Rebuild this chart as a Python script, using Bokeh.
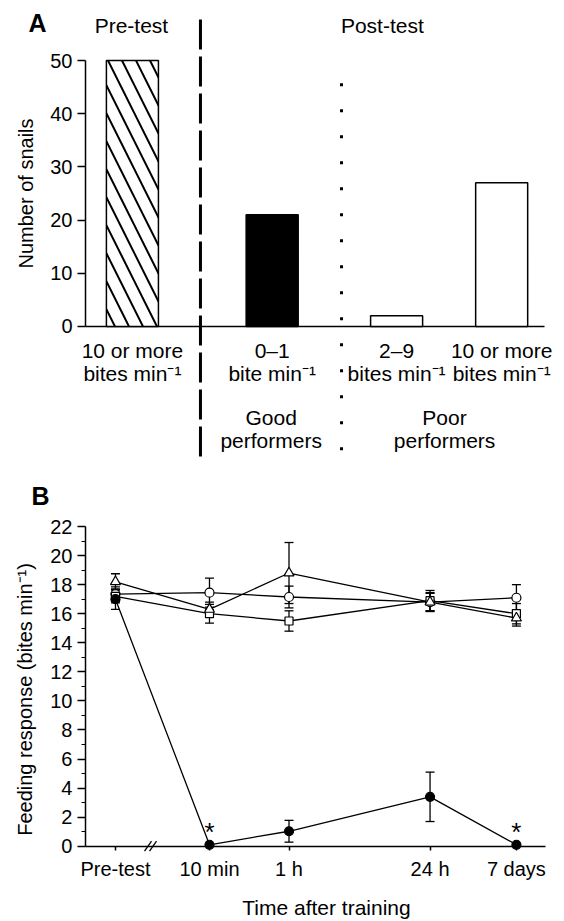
import numpy as np
from bokeh.plotting import figure
from bokeh.models import (ColumnDataSource, FixedTicker, Whisker, TeeHead, Range1d)
from bokeh.layouts import column
from bokeh.embed import file_html
from bokeh.resources import INLINE
from bokeh.core.properties import value

FONT = "Liberation Sans"

# ---------------- data: panel A ----------------
a_phase = ["Pre-test", "Post-test"]
a_rate = ["10 or more", "0\u20131", "2\u20139", "10 or more"]
a_unit = ["bites min\u207b\u00b9", "bite min\u207b\u00b9", "bites min\u207b\u00b9", "bites min\u207b\u00b9"]
a_snails = [50, 21, 2, 27]
a_perf_top = ["Good", "Poor"]
a_perf_bottom = ["performers", "performers"]
a_yticks = [0, 10, 20, 30, 40, 50]

# ---------------- data: panel B ----------------
b_time_labels = ["Pre-test", "10 min", "1 h", "24 h", "7 days"]
b_time_minutes = [10, 60, 1440, 10080]          # post-training times
b_filled = [17.0, 0.1, 1.03, 3.4, 0.1]
b_filled_err = [0.7, 0.0, 0.75, 1.7, 0.0]
b_filled_sig = [False, True, False, False, True]
b_circle = [17.35, 17.45, 17.15, 16.8, 17.1]
b_circle_err = [0.5, 1.0, 0.75, 0.6, 0.9]
b_square = [17.2, 16.0, 15.5, 16.9, 16.0]
b_square_err = [0.45, 0.65, 0.7, 0.7, 0.7]
b_triangle = [18.2, 16.3, 18.8, 16.8, 15.7]
b_triangle_err = [0.55, 0.5, 2.1, 0.65, 0.55]
b_yticks = list(range(0, 23, 2))

# ---------------- layout constants ----------------
# panel A canvas 564 x 465, frame = whole canvas
A_XR = (-0.8333, 4.696)
A_YR = (-26.13, 61.28)
A_XAXIS_END = 4.5
BAR_X = [0.46, 1.83, 3.05, 4.08]
BAR_W = 0.51
PHASE_X = [0.45, 2.91]
PERF_X = [1.82, 3.52]
DASH_X = 1.127
DOT_X = 2.51

# panel B canvas 564 x 456, frame = whole canvas
B_XR = (-1.045, 4.474)
B_YR = (-5.18, 26.20)
B_YAXIS_X = -0.2133
B_XAXIS_END = 4.288
PRE_X = 0.08
BREAK_X = 0.423

FS = "21px"      # free texts
FT = "20px"      # tick labels / axis titles

# =============== Panel A ===============
pA = figure(width=564, height=465, output_backend="svg", toolbar_location=None,
            x_range=Range1d(*A_XR), y_range=Range1d(*A_YR), x_axis_location=None,
            min_border=0)
pA.outline_line_color = None
pA.grid.visible = False

ya = pA.yaxis[0]
ya.fixed_location = 0
ya.ticker = FixedTicker(ticks=a_yticks, minor_ticks=[])
ya.bounds = (0, 50)
ya.major_tick_out = 8
ya.major_tick_in = 0
ya.major_label_standoff = 5
ya.major_label_text_font = FONT
ya.major_label_text_font_size = FT
ya.major_label_text_color = "black"
ya.axis_line_width = 1.5
ya.major_tick_line_width = 1.5
ya.axis_line_color = "black"

# x baseline at y = 0
pA.segment(x0=[0], y0=[0], x1=[A_XAXIS_END], y1=[0], line_color="black", line_width=1.5)

srcA = ColumnDataSource(dict(
    x=BAR_X, top=a_snails,
    fill=["white", "black", "white", "white"],
    hatch=["\\", " ", " ", " "],
    l1=a_rate, l2=a_unit))
pA.vbar(x="x", top="top", bottom=0, width=BAR_W, source=srcA, fill_color="fill",
        line_color="black", line_width=1.5, hatch_pattern="hatch", hatch_color="black",
        hatch_weight=2, hatch_scale=28)

txt = dict(text_font=value(FONT), text_font_size=FS, text_align="center",
           text_baseline="alphabetic", text_color="black")
pA.text(x="x", y=-4.45, text="l1", source=srcA, **txt)
pA.text(x="x", y=-8.83, text="l2", source=srcA, **txt)
pA.text(x=PERF_X, y=[-17.08, -17.08], text=a_perf_top, **txt)
pA.text(x=PERF_X, y=[-21.38, -21.38], text=a_perf_bottom, **txt)
pA.text(x=PHASE_X, y=[56.6, 56.6], text=a_phase, **txt)

# separators
pA.segment(x0=[DASH_X], y0=[57.7], x1=[DASH_X], y1=[-25.2], line_color="black",
           line_width=3, line_dash="30 7", line_cap="butt")
pA.segment(x0=[DOT_X], y0=[45.71], x1=[DOT_X], y1=[-23.4], line_color="black",
           line_width=3, line_dash="3 23", line_cap="butt")

pA.text(x=[-0.588], y=[25.0], text=["Number of snails"], angle=np.pi / 2,
        text_font=value(FONT), text_font_size=FT, text_align="center",
        text_baseline="middle", text_color="black")
pA.text(x=[-0.47], y=[57.0], text=["A"], text_font=value(FONT), text_font_size="25px",
        text_font_style="bold", text_align="center", text_baseline="alphabetic",
        text_color="black")

# =============== Panel B ===============
xs = [PRE_X] + [float(np.log10(m)) for m in b_time_minutes]

pB = figure(width=564, height=456, output_backend="svg", toolbar_location=None,
            x_range=Range1d(*B_XR), y_range=Range1d(*B_YR), min_border=0)
pB.outline_line_color = None
pB.grid.visible = False

yb = pB.yaxis[0]
yb.fixed_location = B_YAXIS_X
yb.ticker = FixedTicker(ticks=b_yticks, minor_ticks=list(range(1, 22, 2)))
yb.bounds = (0, 22)
yb.major_tick_out = 8
yb.major_tick_in = 0
yb.minor_tick_out = 4
yb.minor_tick_in = 0
yb.major_label_standoff = 5
yb.major_label_text_font = FONT
yb.major_label_text_font_size = FT
yb.major_label_text_color = "black"
yb.axis_line_width = 1.5
yb.major_tick_line_width = 1.5
yb.minor_tick_line_width = 1.2

xb = pB.xaxis[0]
xb.fixed_location = 0
xb.bounds = (B_YAXIS_X, B_XAXIS_END)
xb.ticker = FixedTicker(ticks=xs, minor_ticks=[])
xb.major_label_overrides = {x: lab for x, lab in zip(xs, b_time_labels)}
xb.major_tick_out = 4
xb.major_tick_in = 0
xb.major_label_standoff = 8
xb.major_label_text_font = FONT
xb.major_label_text_font_size = FT
xb.major_label_text_color = "black"
xb.axis_line_width = 1.5
xb.major_tick_line_width = 1.5

# axis break
px_x = (B_XR[1] - B_XR[0]) / 564.0
px_y = (B_YR[1] - B_YR[0]) / 456.0
pB.segment(x0=[BREAK_X - 1.5 * px_x], y0=[0], x1=[BREAK_X + 1.5 * px_x], y1=[0],
           line_color="white", line_width=3)
pB.segment(x0=[BREAK_X - 6 * px_x, BREAK_X - 1 * px_x], y0=[-5 * px_y, -5 * px_y],
           x1=[BREAK_X + 1 * px_x, BREAK_X + 6 * px_x], y1=[5 * px_y, 5 * px_y],
           line_color="black", line_width=1.3)

series = [
    ("circle", b_circle, b_circle_err, "white", 9),
    ("square", b_square, b_square_err, "white", 8),
    ("triangle", b_triangle, b_triangle_err, "white", 10),
    ("circle", b_filled, b_filled_err, "black", 9),
]
for marker, ys, errs, fill, size in series:
    pB.line(xs, ys, line_color="black", line_width=1.3)
for marker, ys, errs, fill, size in series:
    idx = [i for i, e in enumerate(errs) if e > 0]
    s = ColumnDataSource(dict(x=[xs[i] for i in idx],
                              upper=[ys[i] + errs[i] for i in idx],
                              lower=[ys[i] - errs[i] for i in idx]))
    pB.add_layout(Whisker(base="x", upper="upper", lower="lower", source=s,
                          line_color="black", line_width=1.3,
                          upper_head=TeeHead(size=9, line_width=1.3, line_color="black"),
                          lower_head=TeeHead(size=9, line_width=1.3, line_color="black")))
for marker, ys, errs, fill, size in series:
    pB.scatter(xs, ys, marker=marker, size=size, fill_color=fill, line_color="black",
               line_width=1.2)

sig_x = [xs[i] for i, s in enumerate(b_filled_sig) if s]
sig_y = [b_filled[i] + 0.9 for i, s in enumerate(b_filled_sig) if s]
pB.text(x=sig_x, y=sig_y, text=["*"] * len(sig_x), text_font=value(FONT),
        text_font_size="26px", text_align="center", text_baseline="alphabetic",
        text_color="black")

pB.text(x=[-0.81], y=[10.1], text=["Feeding response (bites min\u207b\u00b9)"],
        angle=np.pi / 2, text_font=value(FONT), text_font_size=FT, text_align="center",
        text_baseline="middle", text_color="black")
pB.text(x=[2.145], y=[-4.22], text=["Time after training"], text_font=value(FONT),
        text_font_size=FS, text_align="center", text_baseline="alphabetic",
        text_color="black")
pB.text(x=[-0.654], y=[24.1], text=["B"], text_font=value(FONT), text_font_size="25px",
        text_font_style="bold", text_align="center", text_baseline="alphabetic",
        text_color="black")

layout = column(pA, pB, spacing=0)
open("out.html", "w").write(file_html(layout, INLINE))
